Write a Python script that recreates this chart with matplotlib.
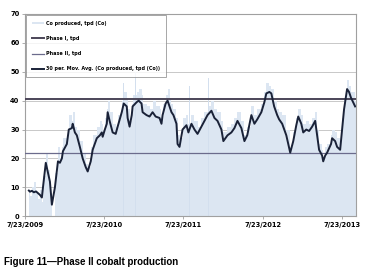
import numpy as np
import pandas as pd
import matplotlib
matplotlib.use("Agg")
import matplotlib.pyplot as plt
import matplotlib.dates as mdates

# 30-day moving average
dates = [
    "2009-08-10", "2009-08-15", "2009-08-24", "2009-09-02", "2009-09-12", "2009-09-21", "2009-09-30", "2009-10-09",
    "2009-10-14", "2009-10-27", "2009-11-06", "2009-11-15", "2009-11-24", "2009-12-08", "2009-12-22", "2009-12-31",
    "2010-01-09", "2010-01-14", "2010-02-01", "2010-02-10", "2010-02-24", "2010-02-28", "2010-03-10", "2010-03-19",
    "2010-04-02", "2010-04-15", "2010-04-29", "2010-05-08", "2010-05-22", "2010-05-31", "2010-06-19", "2010-07-03",
    "2010-07-12", "2010-07-16", "2010-07-26", "2010-08-04", "2010-08-08", "2010-08-17", "2010-08-31", "2010-09-14",
    "2010-09-23", "2010-10-12", "2010-10-21", "2010-11-04", "2010-11-08", "2010-11-17", "2010-11-27", "2010-12-01",
    "2010-12-20", "2010-12-29", "2011-01-11", "2011-01-16", "2011-02-03", "2011-02-17", "2011-03-03", "2011-03-17",
    "2011-04-04", "2011-04-13", "2011-04-18", "2011-05-02", "2011-05-11", "2011-05-20", "2011-05-29", "2011-06-07",
    "2011-06-21", "2011-06-26", "2011-07-05", "2011-07-19", "2011-08-06", "2011-08-15", "2011-08-29", "2011-09-12",
    "2011-09-26", "2011-10-14", "2011-10-28", "2011-11-11", "2011-11-29", "2011-12-13", "2011-12-27", "2012-01-14",
    "2012-01-23", "2012-02-11", "2012-02-29", "2012-03-14", "2012-03-28", "2012-04-15", "2012-04-29", "2012-05-12",
    "2012-05-31", "2012-06-14", "2012-06-27", "2012-07-16", "2012-07-30", "2012-08-08", "2012-08-22", "2012-08-31",
    "2012-09-13", "2012-09-27", "2012-10-06", "2012-10-20", "2012-11-08", "2012-11-26", "2012-12-10", "2012-12-24",
    "2013-01-02", "2013-01-16", "2013-01-25", "2013-02-08", "2013-02-21", "2013-03-07", "2013-03-21", "2013-03-30",
    "2013-04-08", "2013-04-22", "2013-04-27", "2013-05-06", "2013-05-15", "2013-06-02", "2013-06-07", "2013-06-21",
    "2013-06-30", "2013-07-14", "2013-07-23", "2013-08-01", "2013-08-15", "2013-08-24", "2013-09-02", "2013-09-21",
]
mov_avg = [
    8.9, 8.5, 8.8, 8.3, 8.6, 8.0, 7.4, 6.5,
    10, 18.5, 15, 12, 4, 10, 19, 18.5,
    20, 22.5, 25, 30, 30.5, 32, 29, 28,
    24, 20, 17, 15.5, 19, 23, 27, 28,
    29, 27.5, 30, 32, 36, 33, 29, 28.5,
    31, 36, 39, 38, 34, 31, 35, 38,
    39.5, 40, 39, 36, 35, 34.5, 36, 34.5,
    34, 32, 35, 39, 40, 38, 36, 35,
    32, 25, 24, 30, 31.5, 29, 32, 30,
    28.5, 31, 33, 35, 36.5, 34, 33, 30,
    26, 28, 29, 30.5, 33, 30.5, 26, 28,
    35, 32, 33.5, 36, 39.5, 42.5, 43, 42.5,
    38, 35, 33.5, 32, 28, 22, 26, 31.5,
    34.5, 32, 29, 30, 29.5, 31, 33, 28,
    23, 21, 19, 21, 22, 25, 27, 26,
    24, 23, 30, 37, 44, 43, 41, 38,
]
# Co produced (bars), same dates
co_produced = [
    9, 7, 10, 12, 8, 6, 9, 5,
    14, 22, 16, 8, 0, 15, 24, 20,
    24, 27, 28, 35, 33, 36, 31, 30,
    26, 22, 18, 17, 24, 28, 31, 33,
    32, 30, 34, 37, 40, 36, 32, 31,
    35, 40, 43, 41, 37, 33, 39, 42,
    43, 44, 42, 39, 38, 37, 40, 38,
    37, 34, 39, 42, 44, 41, 39, 37,
    34, 28, 27, 34, 35, 32, 35, 33,
    31, 34, 36, 38, 40, 37, 36, 33,
    29, 31, 32, 34, 36, 33, 28, 31,
    38, 35, 37, 39, 43, 46, 45, 44,
    40, 37, 36, 35, 30, 24, 29, 34,
    37, 35, 32, 33, 32, 34, 36, 30,
    25, 23, 20, 24, 25, 28, 30, 29,
    27, 26, 34, 41, 47, 45, 43, 40,
]
# a few tall single days
spike_dates = ["2010-03-01", "2010-06-10", "2010-09-01", "2010-10-20", "2010-12-15", "2011-02-10",
               "2011-05-05", "2011-08-20", "2011-11-15", "2012-02-10", "2012-05-25", "2012-08-15",
               "2012-10-05", "2013-01-05", "2013-05-20", "2013-08-10"]
spike_values = [45, 40, 48, 46, 50, 47, 52, 45, 48, 42, 45, 52, 44, 42, 38, 52]

phase1 = 40.5
phase2 = 22
tick_dates = ["2009-07-23", "2010-07-23", "2011-07-23", "2012-07-23", "2013-07-23"]
tick_labels = ["7/23/2009", "7/23/2010", "7/23/2011", "7/23/2012", "7/23/2013"]

x = mdates.date2num(pd.to_datetime(dates))
xs = mdates.date2num(pd.to_datetime(spike_dates))
widths = np.append(np.diff(x), 19)

fig = plt.figure(figsize=(3.67, 2.78), dpi=100)
ax = fig.add_axes([0.068, 0.222, 0.902, 0.728])

b = ax.bar(x, co_produced, width=widths, align='edge', color='#dce6f2', linewidth=0,
           label='Co produced, tpd (Co)', zorder=1)
ax.bar(xs, spike_values, width=2, color='#d3dfee', linewidth=0, zorder=1)
l1 = ax.axhline(phase1, color='#4b4558', lw=1.4, label='Phase I, tpd', zorder=3)
l2 = ax.axhline(phase2, color='#6b6b8c', lw=0.9, label='Phase II, tpd', zorder=3)
l3, = ax.plot(x, mov_avg, color='#1a2238', lw=1.4,
              label='30 per. Mov. Avg. (Co produced, tpd (Co))', zorder=4)

ax.set_ylim(0, 70)
ax.set_yticks(range(0, 80, 10))
ax.set_xlim(mdates.date2num(pd.Timestamp("2009-07-23")), mdates.date2num(pd.Timestamp("2013-09-25")))
ax.set_xticks(mdates.date2num(pd.to_datetime(tick_dates)))
ax.set_xticklabels(tick_labels)
ax.yaxis.grid(True, color='#c8c8c8', lw=0.7, zorder=0)
ax.set_axisbelow(True)
for s in ax.spines.values():
    s.set_color('#a0a0a0')
    s.set_linewidth(0.8)
ax.tick_params(axis='both', labelsize=4.8, length=2, width=0.6, color='#a0a0a0', pad=2)
for t in ax.get_xticklabels() + ax.get_yticklabels():
    t.set_fontweight('bold')

leg = ax.legend([b, l1, l2, l3], [h.get_label() for h in (b, l1, l2, l3)],
                loc='upper left', bbox_to_anchor=(0.0, 1.0), borderaxespad=0.3,
                fontsize=3.5, labelspacing=2.1, handlelength=2.6, handleheight=0.5,
                handletextpad=0.4, frameon=True, fancybox=False, borderpad=1.1)
leg.get_frame().set_edgecolor('#909090')
leg.get_frame().set_linewidth(0.7)
for t in leg.get_texts():
    t.set_fontweight('bold')

fig.text(0.012, 0.045, "Figure 11\u2014Phase II cobalt production", fontsize=7, fontweight='bold',
         family='Liberation Sans')

fig.savefig("out.png", dpi=100)
